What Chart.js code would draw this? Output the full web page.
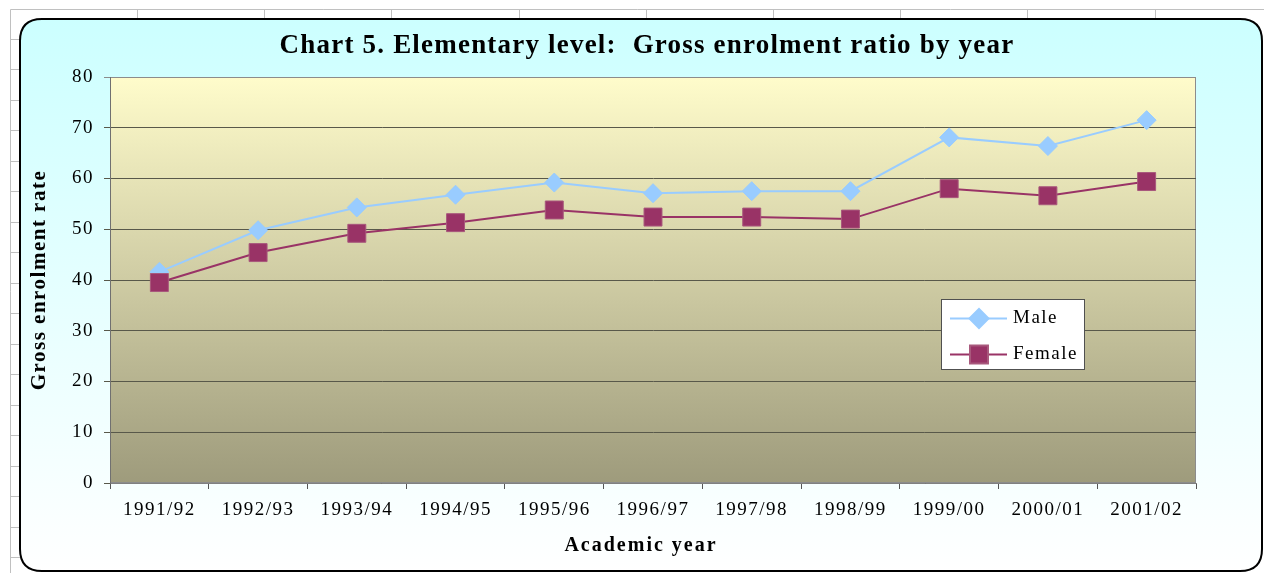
<!DOCTYPE html>
<html><head><meta charset="utf-8">
<script src="https://cdn.jsdelivr.net/npm/chart.js@4.4.1/dist/chart.umd.min.js"></script>
<style>html,body{margin:0;padding:0;background:#fff;overflow:hidden}#wrap{width:1264px;height:573px}</style>
</head><body><div id="wrap"><canvas id="c" width="1264" height="573"></canvas></div>
<script>
const categories = ['1991/92','1992/93','1993/94','1994/95','1995/96','1996/97','1997/98','1998/99','1999/00','2000/01','2001/02'];
const maleValues = [41.6, 49.8, 54.3, 56.8, 59.2, 57.1, 57.5, 57.5, 68.1, 66.4, 71.5];
const femaleValues = [39.5, 45.4, 49.2, 51.3, 53.8, 52.4, 52.4, 52.0, 58.0, 56.6, 59.4];
const seriesNames = ['Male', 'Female'];
const yMin = 0, yMax = 80, yStep = 10;
const chartTitle = 'Chart 5. Elementary level:  Gross enrolment ratio by year';
const xTitle = 'Academic year';
const yTitle = 'Gross enrolment rate';

const SERIF = '"Liberation Serif", "Times New Roman", serif';

function roundRect(ctx, x, y, w, h, r) {
  ctx.beginPath();
  ctx.moveTo(x + r, y);
  ctx.lineTo(x + w - r, y);
  ctx.quadraticCurveTo(x + w, y, x + w, y + r);
  ctx.lineTo(x + w, y + h - r);
  ctx.quadraticCurveTo(x + w, y + h, x + w - r, y + h);
  ctx.lineTo(x + r, y + h);
  ctx.quadraticCurveTo(x, y + h, x, y + h - r);
  ctx.lineTo(x, y + r);
  ctx.quadraticCurveTo(x, y, x + r, y);
  ctx.closePath();
}

const backgroundPlugin = {
  id: 'bg',
  beforeDraw(chart) {
    const ctx = chart.ctx;
    const W = chart.width, H = chart.height;
    ctx.save();
    ctx.fillStyle = '#ffffff';
    ctx.fillRect(0, 0, W, H);
    // spreadsheet cell grid
    ctx.strokeStyle = '#c0c0c0';
    ctx.lineWidth = 1;
    ctx.beginPath();
    ctx.moveTo(10.5, 9.5); ctx.lineTo(W, 9.5);
    ctx.moveTo(10.5, 9.5); ctx.lineTo(10.5, H);
    for (let x = 137; x < W; x += 127.2) { ctx.moveTo(Math.round(x) + 0.5, 9.5); ctx.lineTo(Math.round(x) + 0.5, 20); }
    for (let y = 38.5; y < H; y += 30.5) { ctx.moveTo(10.5, Math.round(y) + 0.5); ctx.lineTo(20, Math.round(y) + 0.5); }
    ctx.stroke();
    // chart box
    const g = ctx.createLinearGradient(0, 19, 0, 571);
    g.addColorStop(0, '#ccffff');
    g.addColorStop(1, '#ffffff');
    roundRect(ctx, 20, 19, 1242, 552, 22);
    ctx.fillStyle = g;
    ctx.fill();
    ctx.lineWidth = 2;
    ctx.strokeStyle = '#000000';
    ctx.stroke();
    // plot area
    const a = chart.chartArea;
    const pg = ctx.createLinearGradient(0, a.top, 0, a.bottom);
    pg.addColorStop(0, '#fffccb');
    pg.addColorStop(1, '#9e9b7c');
    ctx.fillStyle = pg;
    ctx.fillRect(a.left, a.top, a.right - a.left, a.bottom - a.top);
    ctx.strokeStyle = '#8c8c8c';
    ctx.lineWidth = 1;
    ctx.strokeRect(a.left + 0.5, a.top + 0.5, a.right - a.left - 1, a.bottom - a.top - 1);
    ctx.restore();
    ctx.letterSpacing = '1.5px';
  },
  afterDraw(chart) {
    const ctx = chart.ctx;
    ctx.save();
    ctx.fillStyle = '#000';
    ctx.textAlign = 'center';
    ctx.textBaseline = 'middle';
    // title
    ctx.letterSpacing = '1.2px';
    ctx.font = 'bold 27px ' + SERIF;
    ctx.fillText(chartTitle, 647, 46);
    // x axis title
    ctx.letterSpacing = '2px';
    ctx.font = 'bold 20px ' + SERIF;
    ctx.fillText(xTitle, 641, 546);
    // legend
    const bx = 941, by = 299, bw = 144, bh = 71;
    ctx.fillStyle = '#ffffff';
    ctx.fillRect(bx, by, bw, bh);
    ctx.strokeStyle = '#505050';
    ctx.lineWidth = 1;
    ctx.strokeRect(bx + 0.5, by + 0.5, bw - 1, bh - 1);
    ctx.letterSpacing = '1.5px';
    ctx.font = '19px ' + SERIF;
    ctx.textAlign = 'left';
    chart.data.datasets.forEach((ds, i) => {
      const y = 318.5 + i * 36;
      ctx.strokeStyle = ds.borderColor;
      ctx.lineWidth = ds.borderWidth;
      ctx.beginPath(); ctx.moveTo(950, y); ctx.lineTo(1007, y); ctx.stroke();
      ctx.fillStyle = ds.pointBackgroundColor;
      ctx.strokeStyle = ds.pointBorderColor;
      Chart.helpers.drawPoint(ctx, {pointStyle: ds.pointStyle, radius: ds.pointRadius, borderWidth: ds.pointBorderWidth, rotation: 0}, 979, y);
      ctx.fillStyle = '#000';
      ctx.fillText(ds.label, 1013, y);
    });
    ctx.restore();
  }
};

new Chart(document.getElementById('c'), {
  type: 'line',
  data: {
    labels: categories,
    datasets: [
      {
        label: seriesNames[0], data: maleValues, order: 1,
        borderColor: '#99ccff', backgroundColor: '#99ccff',
        pointBackgroundColor: '#99ccff', pointBorderColor: '#99ccff',
        borderWidth: 2, pointStyle: 'rectRot', pointRadius: 9.5, pointBorderWidth: 1,
        tension: 0, fill: false
      },
      {
        label: seriesNames[1], data: femaleValues, order: 0,
        borderColor: '#993366', backgroundColor: '#993366',
        pointBackgroundColor: '#993366', pointBorderColor: '#a8587c',
        borderWidth: 2, pointStyle: 'rect', pointRadius: 12.7, pointBorderWidth: 1,
        tension: 0, fill: false
      }
    ]
  },
  options: {
    responsive: false,
    devicePixelRatio: 1,
    animation: false,
    events: [],
    layout: { padding: { left: 20, right: 68, top: 77, bottom: 0 } },
    plugins: {
      legend: { display: false },
      title: { display: false },
      tooltip: { enabled: false }
    },
    scales: {
      x: {
        type: 'category',
        offset: true,
        afterFit(s) { s.height = 90; },
        grid: { offset: true, drawOnChartArea: false, drawTicks: true, tickLength: 6, color: '#555555' },
        border: { color: '#808080', width: 1 },
        ticks: { color: '#000', font: { family: SERIF, size: 19 }, padding: 10, maxRotation: 0, autoSkip: false },
        title: { display: false }
      },
      y: {
        min: yMin, max: yMax,
        afterFit(s) { s.width = 90; },
        grid: {
          color: (c) => (c.tick && c.tick.value === yMax) ? '#8c8c8c' : '#58584a',
          tickLength: 6, drawTicks: true
        },
        border: { color: '#707070', width: 1 },
        ticks: { stepSize: yStep, color: '#000', font: { family: SERIF, size: 19 }, padding: 10 },
        title: { display: true, text: yTitle, color: '#000', font: { family: SERIF, size: 21, weight: 'bold' }, padding: { top: 7, bottom: 0 } }
      }
    }
  },
  plugins: [backgroundPlugin]
});
</script>
</body></html>
